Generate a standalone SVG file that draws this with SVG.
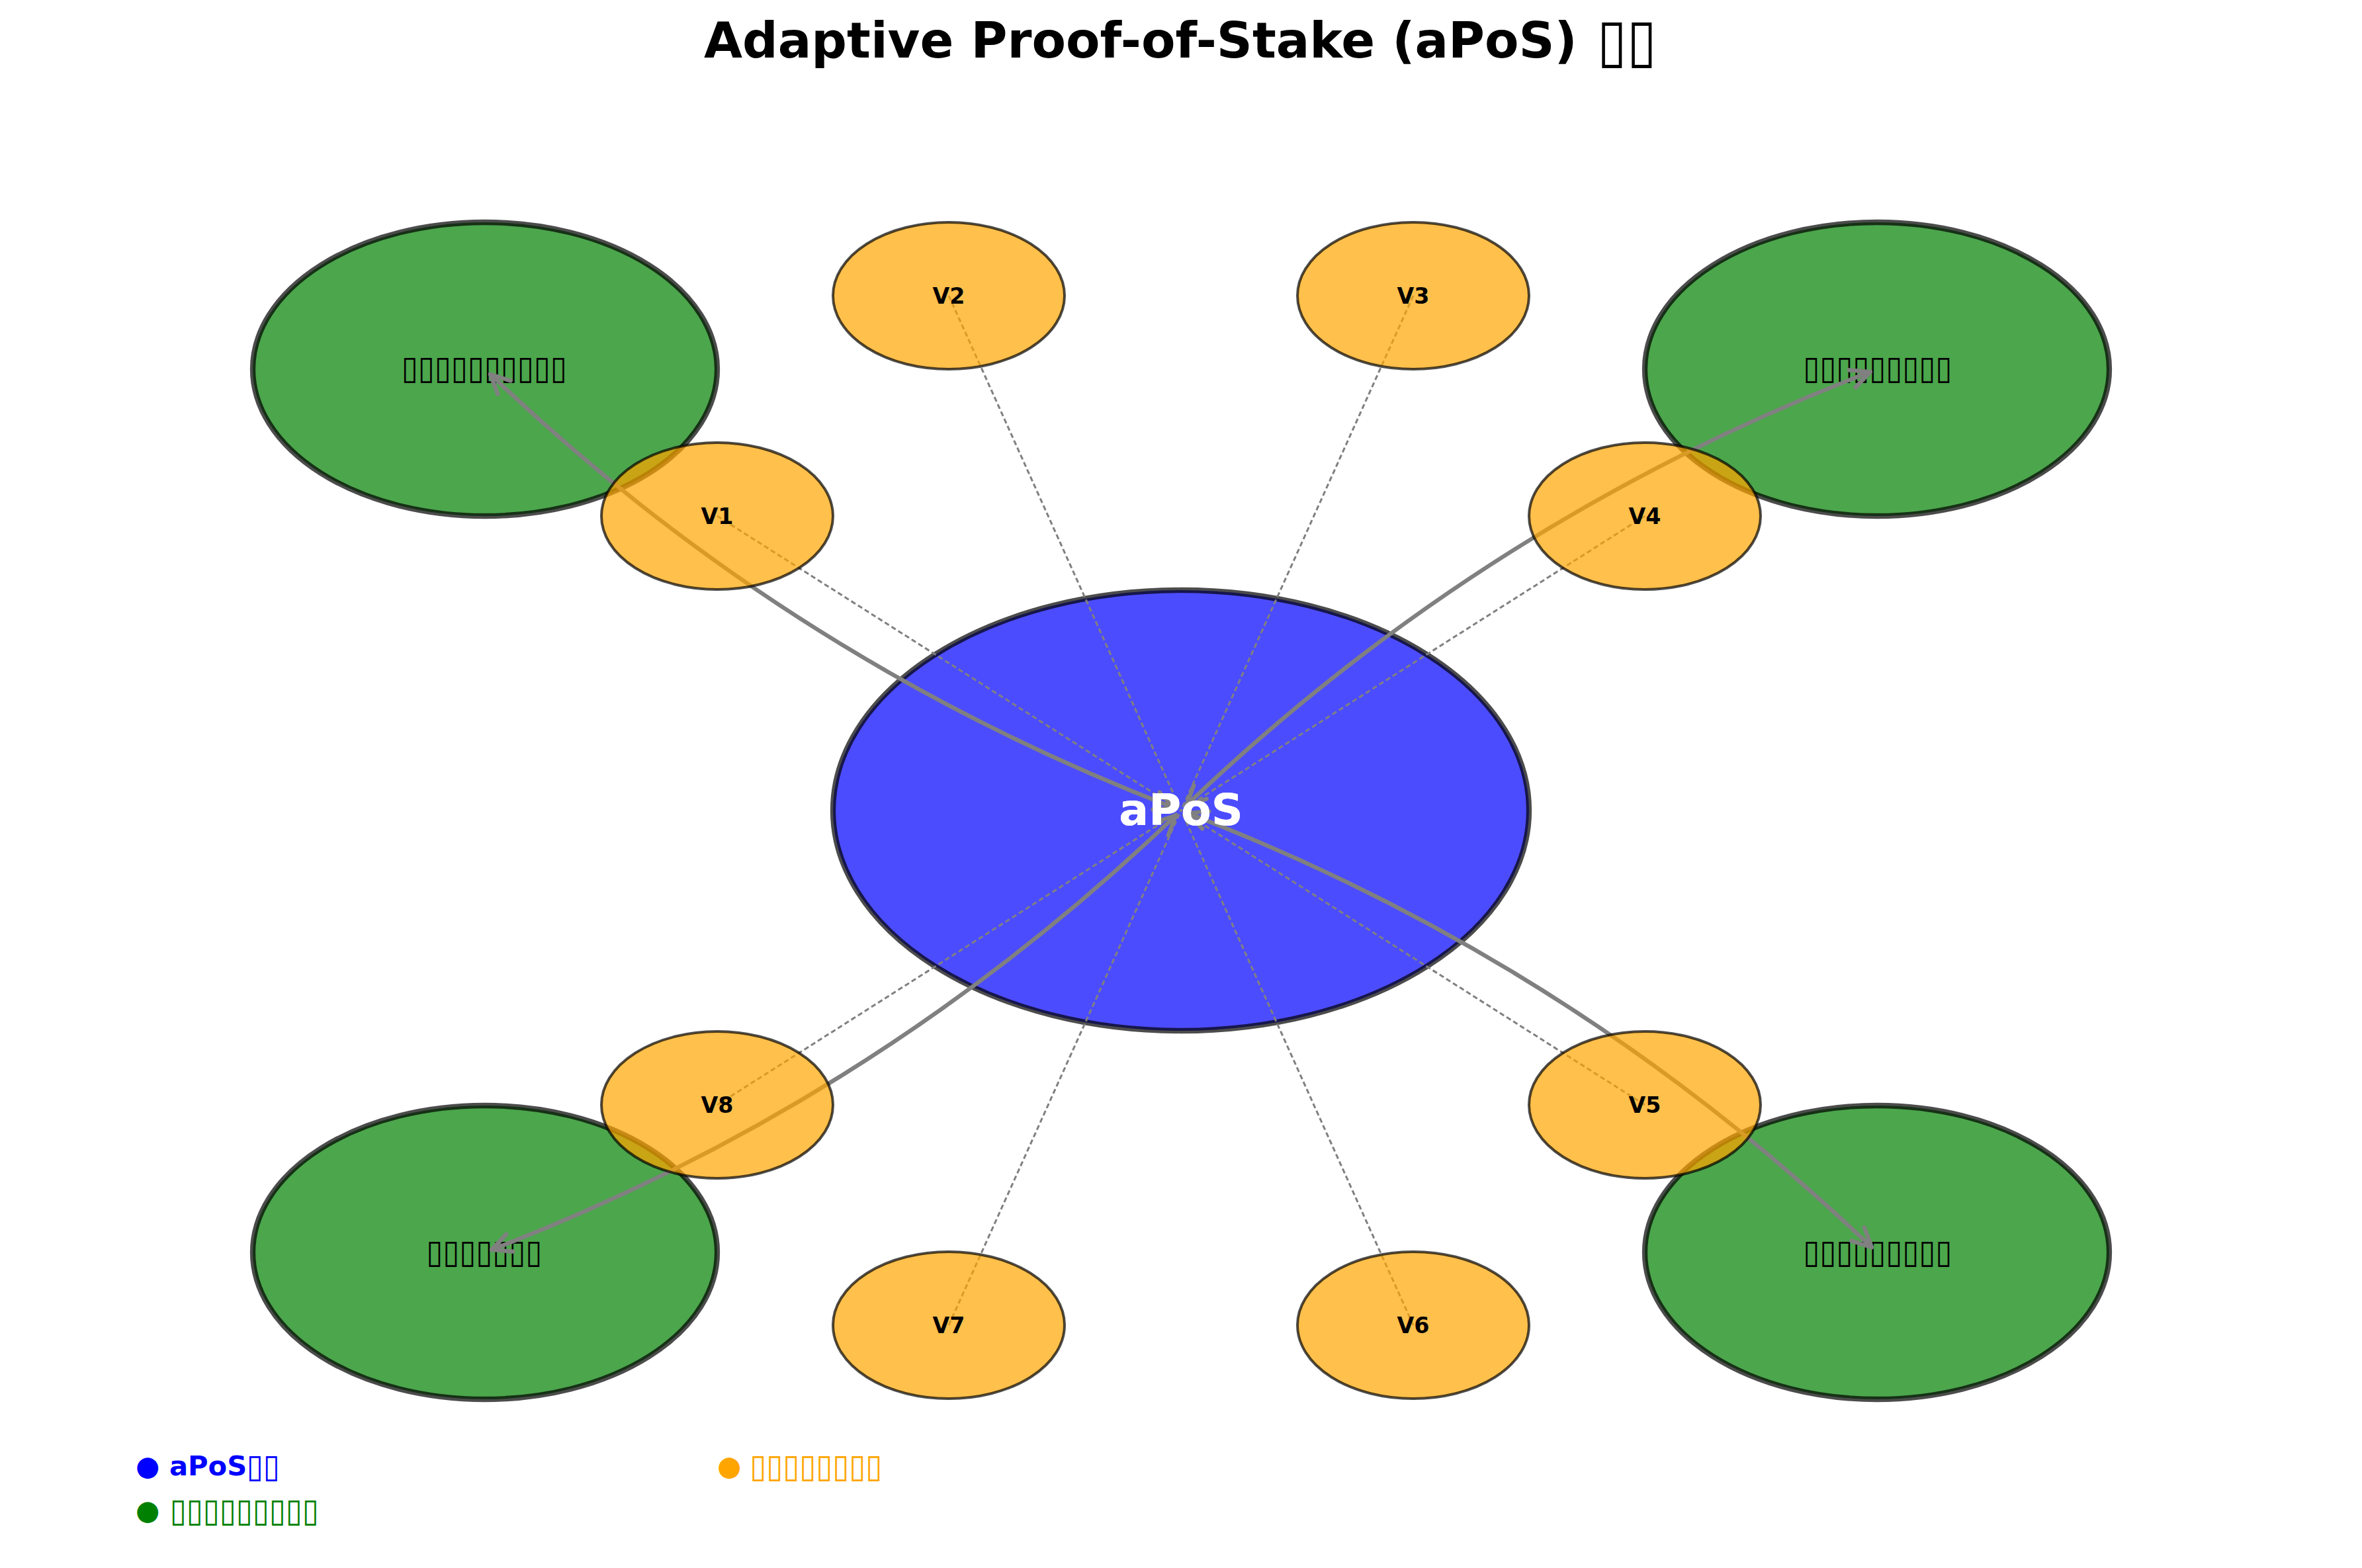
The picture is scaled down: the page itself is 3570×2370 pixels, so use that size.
<svg xmlns="http://www.w3.org/2000/svg" width="3570" height="2370" viewBox="0 0 3570 2370">
<style>
text{font-family:"DejaVu Sans","Noto Sans CJK SC",sans-serif}
.big{fill:#0000ff;fill-opacity:.7;stroke:#000;stroke-opacity:.7;stroke-width:8.3}
.grn{fill:#008000;fill-opacity:.7;stroke:#000;stroke-opacity:.7;stroke-width:8.3}
.org{fill:#ffa500;fill-opacity:.7;stroke:#000;stroke-opacity:.7;stroke-width:4}
.arc{fill:none;stroke:#808080;stroke-width:6.25;stroke-linecap:round;marker-start:url(#ah);marker-end:url(#ah)}
.dot{fill:none;stroke:#808080;stroke-width:3;stroke-dasharray:7.5 4.5}
.glab{font-size:50px;fill:#000}
.vlab{font-size:33.3px;font-weight:bold;fill:#000}
.leg{font-size:41.7px;font-weight:bold}
.tf{font-size:50px}
</style>
<defs>
<marker id="ah" markerUnits="userSpaceOnUse" orient="auto-start-reverse" refX="0" refY="0" markerWidth="80" markerHeight="80" viewBox="-40 -40 80 80" overflow="visible">
<path d="M -29 -14 L 0 0 L -29 14" fill="none" stroke="#808080" stroke-width="6.25" stroke-linecap="round" stroke-linejoin="round"/>
</marker>
</defs>
<rect width="3570" height="2370" fill="#fff"/>
<text x="1064" y="87" style="font-size:75px;font-weight:bold" fill="#000">Adaptive Proof-of-Stake (aPoS) <tspan x="2414" y="91.5" style="font-size:90px" textLength="90" lengthAdjust="spacingAndGlyphs">▯▯</tspan></text>

<g id="node-apos">
<ellipse class="big" cx="1785" cy="1225" rx="526" ry="333"/>
<text id="apos-label" x="1785" y="1247" text-anchor="middle" style="font-size:66.7px;font-weight:bold" fill="#fff">aPoS</text>
</g>
<g id="node-g1">
<ellipse class="grn" cx="733" cy="558" rx="351" ry="222"/>
<text class="glab" x="732" y="573" text-anchor="middle" textLength="250" lengthAdjust="spacingAndGlyphs">▯▯▯▯▯▯▯▯▯▯</text>
</g>
<g id="node-g2">
<ellipse class="grn" cx="2837" cy="558" rx="351" ry="222"/>
<text class="glab" x="2838" y="573" text-anchor="middle" textLength="225" lengthAdjust="spacingAndGlyphs">▯▯▯▯▯▯▯▯▯</text>
</g>
<g id="node-g3">
<ellipse class="grn" cx="733" cy="1893" rx="351" ry="222"/>
<text class="glab" x="732" y="1909" text-anchor="middle" textLength="175" lengthAdjust="spacingAndGlyphs">▯▯▯▯▯▯▯</text>
</g>
<g id="node-g4">
<ellipse class="grn" cx="2837" cy="1893" rx="351" ry="222"/>
<text class="glab" x="2838" y="1909" text-anchor="middle" textLength="225" lengthAdjust="spacingAndGlyphs">▯▯▯▯▯▯▯▯▯</text>
</g>

<g id="connectors">
<path class="arc" d="M 1774.7 1221.0 Q 1192.3 996.7 741.0 565.6"/>
<path class="arc" d="M 1793.0 1217.4 Q 2244.3 786.3 2826.7 562.0"/>
<path class="arc" d="M 1795.3 1229.0 Q 2377.8 1453.8 2829.0 1885.4"/>
<path class="arc" d="M 1777.0 1232.6 Q 1325.8 1664.2 743.3 1889.0"/>
<line class="dot" x1="1084" y1="780" x2="1785" y2="1225"/>
<line class="dot" x1="1434" y1="447" x2="1785" y2="1225"/>
<line class="dot" x1="2136" y1="447" x2="1785" y2="1225"/>
<line class="dot" x1="2486" y1="780" x2="1785" y2="1225"/>
<line class="dot" x1="2486" y1="1670" x2="1785" y2="1225"/>
<line class="dot" x1="2136" y1="2003" x2="1785" y2="1225"/>
<line class="dot" x1="1434" y1="2003" x2="1785" y2="1225"/>
<line class="dot" x1="1084" y1="1670" x2="1785" y2="1225"/>
</g>

<g id="node-v1"><ellipse class="org" cx="1084" cy="780" rx="175" ry="111"/><text class="vlab" x="1084" y="792" text-anchor="middle">V1</text></g>
<g id="node-v2"><ellipse class="org" cx="1434" cy="447" rx="175" ry="111"/><text class="vlab" x="1434" y="459" text-anchor="middle">V2</text></g>
<g id="node-v3"><ellipse class="org" cx="2136" cy="447" rx="175" ry="111"/><text class="vlab" x="2136" y="459" text-anchor="middle">V3</text></g>
<g id="node-v4"><ellipse class="org" cx="2486" cy="780" rx="175" ry="111"/><text class="vlab" x="2486" y="792" text-anchor="middle">V4</text></g>
<g id="node-v5"><ellipse class="org" cx="2486" cy="1670" rx="175" ry="111"/><text class="vlab" x="2486" y="1682" text-anchor="middle">V5</text></g>
<g id="node-v6"><ellipse class="org" cx="2136" cy="2003" rx="175" ry="111"/><text class="vlab" x="2136" y="2015" text-anchor="middle">V6</text></g>
<g id="node-v7"><ellipse class="org" cx="1434" cy="2003" rx="175" ry="111"/><text class="vlab" x="1434" y="2015" text-anchor="middle">V7</text></g>
<g id="node-v8"><ellipse class="org" cx="1084" cy="1670" rx="175" ry="111"/><text class="vlab" x="1084" y="1682" text-anchor="middle">V8</text></g>

<use href="#apos-label"/>

<g id="legend">
<text class="leg" x="205" y="2230" fill="#0000ff">● aPoS<tspan class="tf" x="373" y="2232.5" textLength="50" lengthAdjust="spacingAndGlyphs">▯▯</tspan></text>
<text class="leg" x="1084" y="2230" fill="#ffa500">● <tspan class="tf" x="1133.5" y="2232.5" textLength="200" lengthAdjust="spacingAndGlyphs">▯▯▯▯▯▯▯▯</tspan></text>
<text class="leg" x="205" y="2297" fill="#008000">● <tspan class="tf" x="257" y="2299.5" textLength="225" lengthAdjust="spacingAndGlyphs">▯▯▯▯▯▯▯▯▯</tspan></text>
</g>
</svg>
